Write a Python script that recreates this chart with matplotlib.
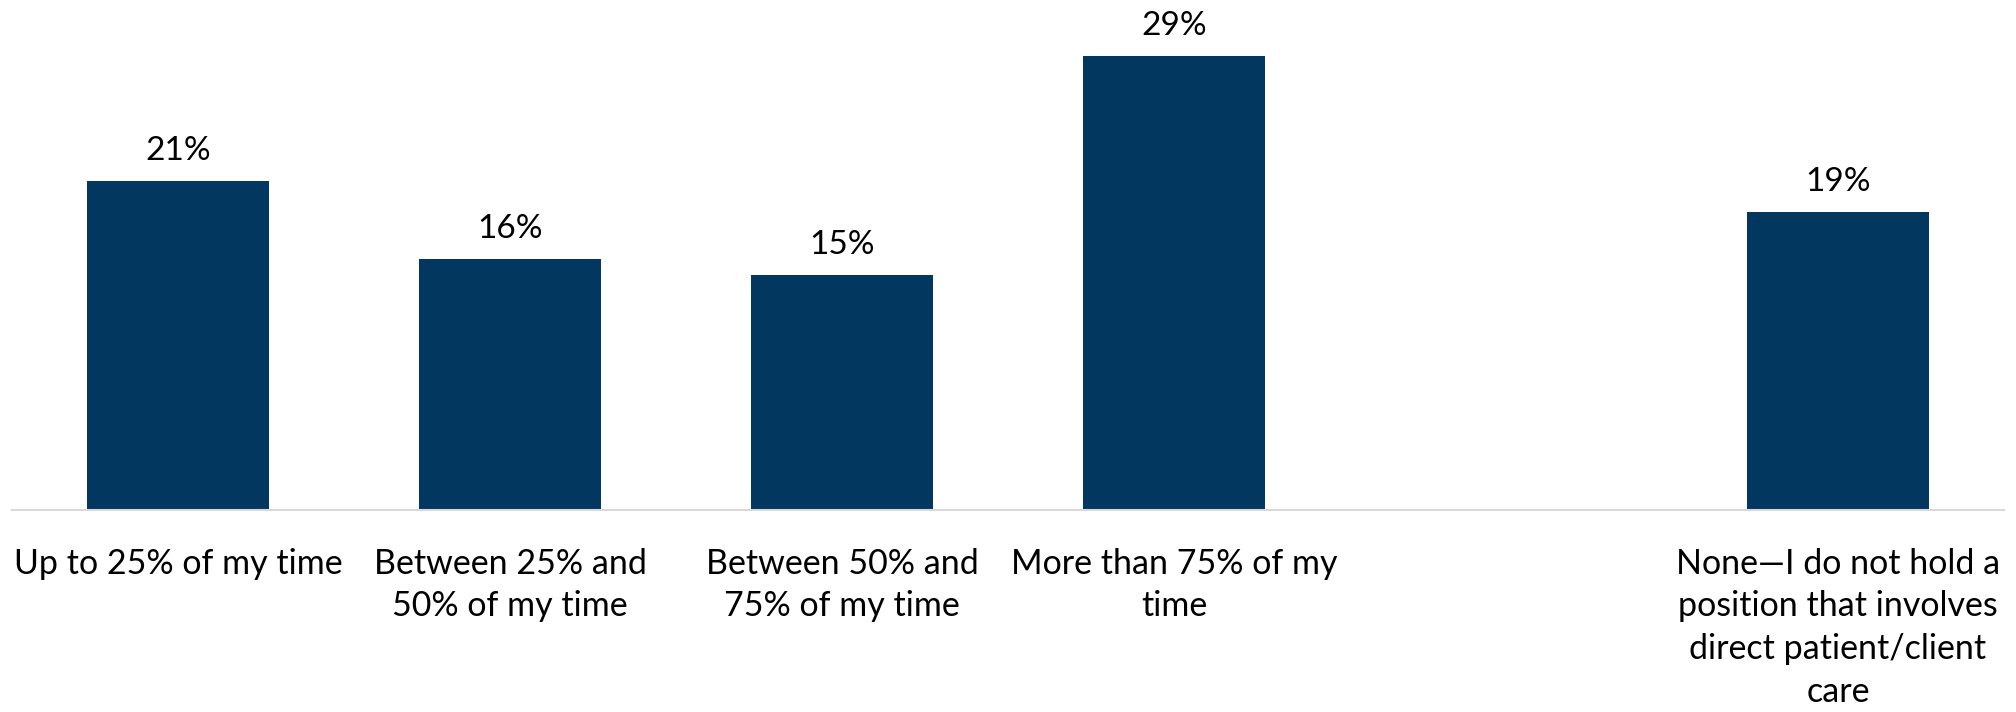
import matplotlib.pyplot as plt
import numpy as np

plt.rcParams['font.family'] = ['Lato', 'DejaVu Sans']

categories = ['Up to 25% of my time',
              'Between 25% and\n50% of my time',
              'Between 50% and\n75% of my time',
              'More than 75% of my\ntime',
              '',
              'None\u2014I do not hold a\nposition that involves\ndirect patient/client\ncare']
shares = [21, 16, 15, 29, None, 19]

bar_color = '#02375f'

fig = plt.figure(figsize=(20.16, 7.12), dpi=100)
ax = fig.add_axes([0.006, 0.2837, 0.988, 0.7163])

x = np.arange(len(categories))
for xi, val in zip(x, shares):
    if val is None:
        continue
    ax.bar(xi, val, width=0.55, color=bar_color)
    ax.text(xi, val + 0.95, f'{val}%', ha='center', va='bottom', fontsize=24, color='black')

ax.set_xlim(-0.5, len(categories) - 0.5)
ax.set_ylim(0, 32.55)
ax.set_xticks(x)
ax.set_xticklabels(categories, fontsize=24.5, color='black', linespacing=1.42)
ax.tick_params(axis='x', length=0, pad=27)
ax.set_yticks([])

for side in ['top', 'right', 'left']:
    ax.spines[side].set_visible(False)
ax.spines['bottom'].set_color('#d9d9d9')
ax.spines['bottom'].set_linewidth(1.5)

plt.savefig('out.png', dpi=100)
plt.close()
